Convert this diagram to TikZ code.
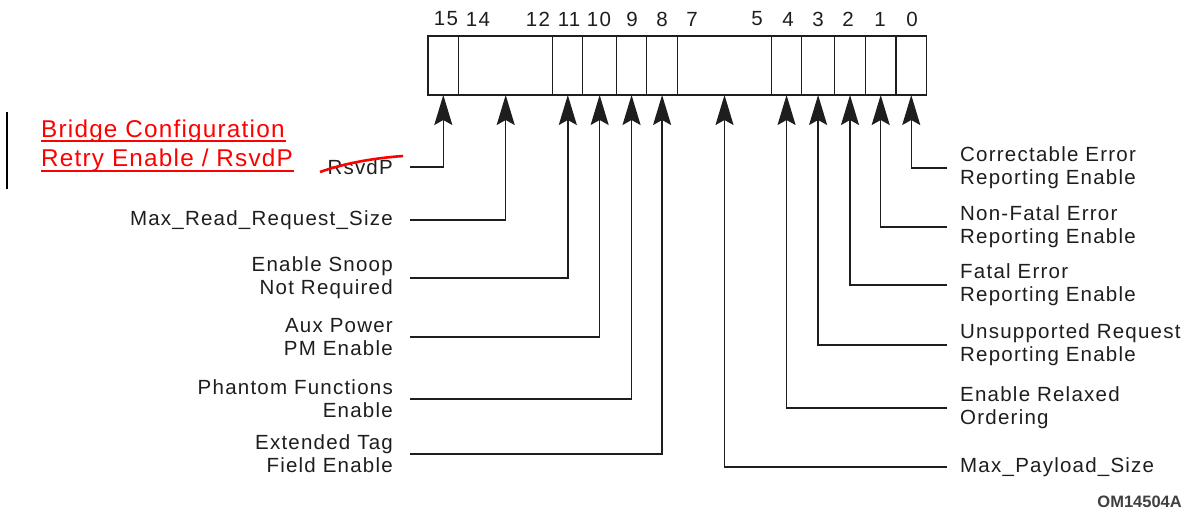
\documentclass[tikz,border=0pt]{standalone}
\usepackage{fontspec}
\setmainfont{Liberation Sans}
\newfontfamily\lblfont[LetterSpace=6]{Liberation Sans}
\newfontfamily\redfont[LetterSpace=5]{Liberation Sans}
\usetikzlibrary{arrows.meta}
\definecolor{ink}{HTML}{1E1E1E}
\definecolor{redink}{HTML}{FF0000}
\tikzset{
  cell/.style={draw=ink, line width=1.2pt, minimum height=59pt, anchor=north west, inner sep=0pt, outer sep=0pt},
  lbl/.style={font=\lblfont\fontsize{20.5}{23}\selectfont, text=ink, inner sep=0pt},
  lblL/.style={lbl, align=right, anchor=east},
  lblR/.style={lbl, align=left, anchor=west},
  bitnum/.style={lbl, anchor=center},
  conn/.style={draw=ink, line width=1.4pt, -{Stealth[length=30pt,width=18pt,inset=5pt]}},
  redtxt/.style={font=\redfont\fontsize{24.3}{30}\selectfont, text=redink, inner sep=0pt, anchor=base west},
  uline/.style={draw=redink, line width=2.2pt}
}
\begin{document}
\begin{tikzpicture}[x=1pt,y=-1pt]
\useasboundingbox[fill=white] (0,0) rectangle (1186,520);
% register cells
\node[cell, minimum width=30.6pt] (c15) at (428,36) {};
\node[cell, minimum width=94.2pt] (c14) at (458.6,36) {};
\node[cell, minimum width=30pt]   (c11) at (552.8,36) {};
\node[cell, minimum width=33.7pt] (c10) at (582.8,36) {};
\node[cell, minimum width=30.1pt] (c9)  at (616.5,36) {};
\node[cell, minimum width=31pt]   (c8)  at (646.6,36) {};
\node[cell, minimum width=93.8pt] (c7)  at (677.6,36) {};
\node[cell, minimum width=30.3pt] (c4)  at (771.4,36) {};
\node[cell, minimum width=32.8pt] (c3)  at (801.7,36) {};
\node[cell, minimum width=31pt]   (c2)  at (834.5,36) {};
\node[cell, minimum width=30.4pt] (c1)  at (865.5,36) {};
\node[cell, minimum width=30.7pt] (c0)  at (895.9,36) {};
% bit numbers
\node[bitnum] (n15) at (446,19) {15};
\node[bitnum] (n14) at (478,19) {14};
\node[bitnum] (n12) at (538,19) {12};
\node[bitnum] (n11) at (569,19) {11};
\node[bitnum] (n10) at (599,19) {10};
\node[bitnum] (n9)  at (632,19) {9};
\node[bitnum] (n8)  at (662,19) {8};
\node[bitnum] (n7)  at (692,19) {7};
\node[bitnum] (n5)  at (757,19) {5};
\node[bitnum] (n4)  at (788,19) {4};
\node[bitnum] (n3)  at (818,19) {3};
\node[bitnum] (n2)  at (848,19) {2};
\node[bitnum] (n1)  at (880,19) {1};
\node[bitnum] (n0)  at (912,19) {0};
% left labels
\node[lblL] (l15) at (393,167) {RsvdP};
\node[lblL] (l14) at (393,220) {Max\_Read\_Request\_Size};
\node[lblL] (l11) at (393,278) {Enable Snoop\\Not Required};
\node[lblL] (l10) at (393,337) {Aux Power\\PM Enable};
\node[lblL] (l9)  at (393,399) {Phantom Functions\\Enable};
\node[lblL] (l8)  at (393,454) {Extended Tag\\Field Enable};
% right labels
\node[lblR] (r0) at (960,168) {Correctable Error\\Reporting Enable};
\node[lblR] (r1) at (960,227) {Non-Fatal Error\\Reporting Enable};
\node[lblR] (r2) at (960,285) {Fatal Error\\Reporting Enable};
\node[lblR] (r3) at (960,345) {Unsupported Request\\Reporting Enable};
\node[lblR] (r4) at (960,408) {Enable Relaxed\\Ordering};
\node[lblR] (r7) at (960,467) {Max\_Payload\_Size};
% connectors
\draw[conn] ([xshift=17pt]l15.east) -| (c15.south);
\draw[conn] ([xshift=17pt]l14.east) -| (c14.south);
\draw[conn] ([xshift=17pt]l11.east) -| (c11.south);
\draw[conn] ([xshift=17pt]l10.east) -| (c10.south);
\draw[conn] ([xshift=17pt]l9.east)  -| (c9.south);
\draw[conn] ([xshift=17pt]l8.east)  -| (c8.south);
\draw[conn] ([xshift=-13pt]r0.west) -| (c0.south);
\draw[conn] ([xshift=-13pt]r1.west) -| (c1.south);
\draw[conn] ([xshift=-13pt]r2.west) -| (c2.south);
\draw[conn] ([xshift=-13pt]r3.west) -| (c3.south);
\draw[conn] ([xshift=-13pt]r4.west) -| (c4.south);
\draw[conn] ([xshift=-13pt]r7.west) -| (c7.south);
% figure id
\node[anchor=east, font=\bfseries\fontsize{16.5}{18}\selectfont, text=ink!85, inner sep=0pt] (fid) at (1182,502) {OM14504A};
% red annotation
\node[redtxt] (br1) at (41,137.3) {Bridge Configuration};
\node[redtxt] (br2) at (41,166.7) {Retry Enable / RsvdP};
\draw[uline] ([yshift=-3.8pt]br1.base west) -- ([yshift=-3.8pt,xshift=1pt]br1.base east);
\draw[uline] ([yshift=-4pt]br2.base west) -- ([yshift=-4pt,xshift=1pt]br2.base east);
\draw[draw=redink, line width=2.6pt] (320,172) .. controls (345,163) and (375,158) .. (403,156);
\draw[black, line width=2pt] (7,112) -- (7,189);
\end{tikzpicture}
\end{document}
